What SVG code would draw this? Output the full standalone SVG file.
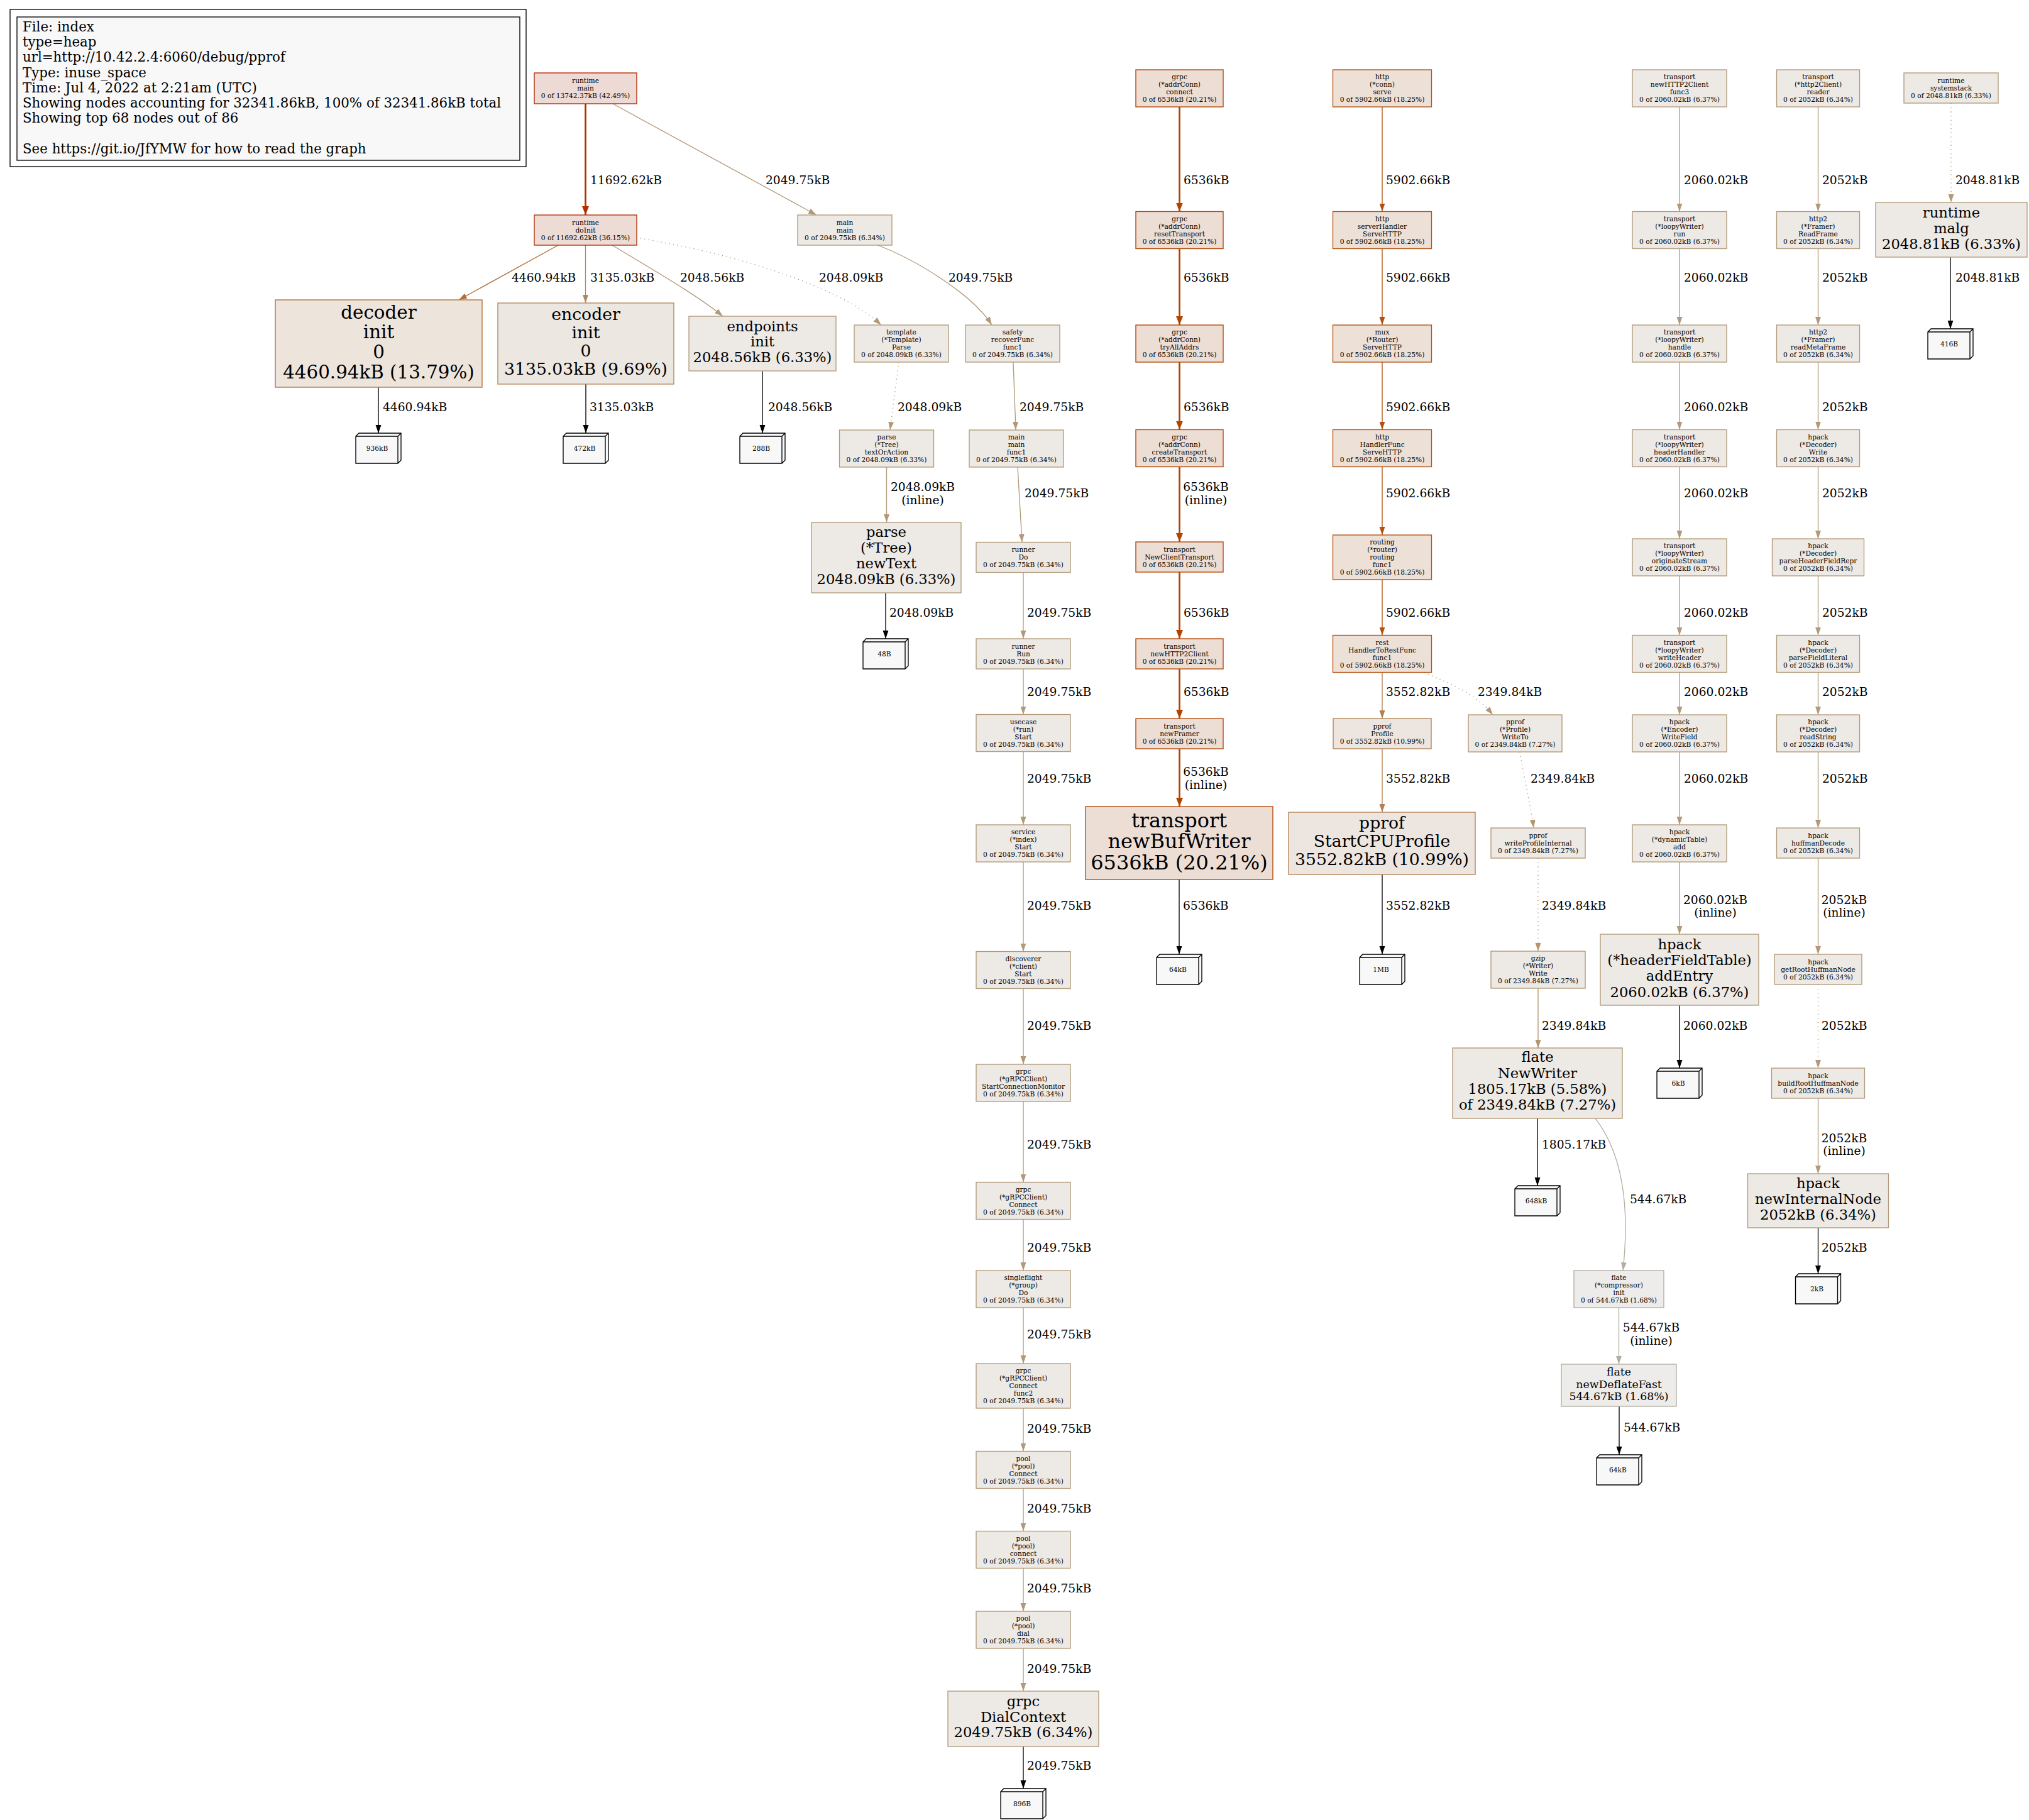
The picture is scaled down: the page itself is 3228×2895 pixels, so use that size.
<svg xmlns="http://www.w3.org/2000/svg" width="3228" height="2895" viewBox="0 0 3228 2895">
<style>
text{font-family:"DejaVu Serif",serif;fill:#000}
.s{font-size:10.67px;text-anchor:middle}
.l{font-size:18.67px}
.lm{font-size:18.67px;text-anchor:middle}
.g{font-size:21.33px}
.f17{font-size:22.67px;text-anchor:middle}
.f20{font-size:26.67px;text-anchor:middle}
.f22{font-size:29.33px;text-anchor:middle}
.f24{font-size:32px;text-anchor:middle}
.f13{font-size:17.33px;text-anchor:middle}
rect.n{stroke-width:1.33}
.c42{fill:#eddad5;stroke:#b22800}
.c36{fill:#eddbd5;stroke:#b22e00}
.c20{fill:#edded5;stroke:#b24400}
.c18{fill:#ede0d7;stroke:#b2500f}
.c13{fill:#ede4dc;stroke:#b26e37}
.c11{fill:#ede6e0;stroke:#b27f50}
.c9{fill:#ede7e1;stroke:#b2875c}
.c7{fill:#ede9e4;stroke:#b29571}
.c6{fill:#ede9e5;stroke:#b29979}
.c1{fill:#edeceb;stroke:#b2aea3}
.bx{fill:#f8f8f8;stroke:#000;stroke-width:1.33}
#edges path{fill:none}
.k36{stroke:#b22e00;stroke-width:2.67;marker-end:url(#m36)}
.k20{stroke:#b24400;stroke-width:2.67;marker-end:url(#m20)}
.k18{stroke:#b2500f;stroke-width:1.33;marker-end:url(#m18)}
.k13{stroke:#b26e37;stroke-width:1.33;marker-end:url(#m13)}
.k11{stroke:#b27f50;stroke-width:1.33;marker-end:url(#m11)}
.k9{stroke:#b2875c;stroke-width:1.33;marker-end:url(#m9)}
.k7{stroke:#b29571;stroke-width:1.33;marker-end:url(#m7)}
.k6{stroke:#b29979;stroke-width:1.33;marker-end:url(#m6)}
.k1{stroke:#b2aea3;stroke-width:1.33;marker-end:url(#m1)}
.kb{stroke:#000;stroke-width:1.33;marker-end:url(#mb)}
.d{stroke-dasharray:1.33 5.33}
</style>
<defs>
<marker id="m36" markerUnits="userSpaceOnUse" markerWidth="16" markerHeight="12" refX="14" refY="5.5" orient="auto"><path d="M0,0 L14,5.5 L0,11 Z" fill="#b22e00"/></marker>
<marker id="m20" markerUnits="userSpaceOnUse" markerWidth="16" markerHeight="12" refX="14" refY="5.5" orient="auto"><path d="M0,0 L14,5.5 L0,11 Z" fill="#b24400"/></marker>
<marker id="m18" markerUnits="userSpaceOnUse" markerWidth="14" markerHeight="10" refX="13" refY="4.5" orient="auto"><path d="M0,0 L13,4.5 L0,9 Z" fill="#b2500f"/></marker>
<marker id="m13" markerUnits="userSpaceOnUse" markerWidth="14" markerHeight="10" refX="13" refY="4.5" orient="auto"><path d="M0,0 L13,4.5 L0,9 Z" fill="#b26e37"/></marker>
<marker id="m11" markerUnits="userSpaceOnUse" markerWidth="14" markerHeight="10" refX="13" refY="4.5" orient="auto"><path d="M0,0 L13,4.5 L0,9 Z" fill="#b27f50"/></marker>
<marker id="m9" markerUnits="userSpaceOnUse" markerWidth="14" markerHeight="10" refX="13" refY="4.5" orient="auto"><path d="M0,0 L13,4.5 L0,9 Z" fill="#b2875c"/></marker>
<marker id="m7" markerUnits="userSpaceOnUse" markerWidth="14" markerHeight="10" refX="13" refY="4.5" orient="auto"><path d="M0,0 L13,4.5 L0,9 Z" fill="#b29571"/></marker>
<marker id="m6" markerUnits="userSpaceOnUse" markerWidth="14" markerHeight="10" refX="13" refY="4.5" orient="auto"><path d="M0,0 L13,4.5 L0,9 Z" fill="#b29979"/></marker>
<marker id="m1" markerUnits="userSpaceOnUse" markerWidth="14" markerHeight="10" refX="13" refY="4.5" orient="auto"><path d="M0,0 L13,4.5 L0,9 Z" fill="#b2aea3"/></marker>
<marker id="mb" markerUnits="userSpaceOnUse" markerWidth="14" markerHeight="10" refX="13" refY="4.5" orient="auto"><path d="M0,0 L13,4.5 L0,9 Z" fill="#000"/></marker>
<path id="b3" d="M0,5 L5,0 L72,0 L72,43 L67,48 L0,48 Z M0,5 L67,5 L67,48 M67,5 L72,0"/>
</defs>
<rect width="3228" height="2895" fill="#fff"/>

<g id="legend">
<rect x="16" y="15" width="821" height="250" fill="none" stroke="#000" stroke-width="1.33"/>
<rect x="27" y="27" width="800" height="228" fill="#f8f8f8" stroke="#000" stroke-width="1.33"/>
<text class="g" x="36" y="50">File: index</text>
<text class="g" x="36" y="74.2">type=heap</text>
<text class="g" x="36" y="98.4">url=http://10.42.2.4:6060/debug/pprof</text>
<text class="g" x="36" y="122.6">Type: inuse_space</text>
<text class="g" x="36" y="146.8">Time: Jul 4, 2022 at 2:21am (UTC)</text>
<text class="g" x="36" y="171">Showing nodes accounting for 32341.86kB, 100% of 32341.86kB total</text>
<text class="g" x="36" y="195.2">Showing top 68 nodes out of 86</text>
<text class="g" x="36" y="243.6">See https://git.io/JfYMW for how to read the graph</text>
</g>

<g id="edges">
<path class="k36" d="M931.5,165 V342"/>
<path class="k6" d="M975,165 L1299,342"/>
<path class="k13" d="M888,390 L730,477"/>
<path class="k9" d="M931.5,390 V482"/>
<path class="k6" d="M974,390 C1040,430 1110,470 1150,503"/>
<path class="k6 d" d="M1012,378 C1150,400 1330,450 1402,517"/>
<path class="k6" d="M1396,390 C1450,410 1545,465 1578,517"/>
<path class="kb" d="M602,616 V689"/>
<path class="kb" d="M932,611 V689"/>
<path class="kb" d="M1213,590 V689"/>
<path class="k6 d" d="M1430,576 L1416,684"/>
<path class="k6" d="M1612,576 L1616,684"/>
<path class="k6" d="M1410.5,743 V831"/>
<path class="k6" d="M1619,743 L1626,862.5"/>
<path class="kb" d="M1409,943 V1016"/>
<path class="k6" d="M1628,910.5 V1016"/>
<path class="k6" d="M1628,1064 V1136.5"/>
<path class="k6" d="M1628,1195.5 V1312"/>
<path class="k6" d="M1628,1371 V1513.5"/>
<path class="k6" d="M1628,1572.5 V1693"/>
<path class="k6" d="M1628,1752 V1880.5"/>
<path class="k6" d="M1628,1939.5 V2021"/>
<path class="k6" d="M1628,2080 V2169"/>
<path class="k6" d="M1628,2240 V2308.5"/>
<path class="k6" d="M1628,2367.5 V2435.5"/>
<path class="k6" d="M1628,2494.5 V2563"/>
<path class="k6" d="M1628,2622 V2690"/>
<path class="kb" d="M1628,2778 V2845"/>
<path class="k20" d="M1876.5,170 V336.5"/>
<path class="k20" d="M1876.5,395.5 V517"/>
<path class="k20" d="M1876.5,576 V683.5"/>
<path class="k20" d="M1876.5,742.5 V862"/>
<path class="k20" d="M1876.5,910 V1016"/>
<path class="k20" d="M1876.5,1064 V1143"/>
<path class="k20" d="M1876.5,1191 V1283"/>
<path class="kb" d="M1876,1399 V1518"/>
<path class="k18" d="M2199,170 V336.5"/>
<path class="k18" d="M2199,395.5 V517"/>
<path class="k18" d="M2199,576 V683.5"/>
<path class="k18" d="M2199,742.5 V851"/>
<path class="k18" d="M2199,922 V1010.5"/>
<path class="k11" d="M2199,1069.5 V1143"/>
<path class="k11" d="M2199,1191 V1292"/>
<path class="kb" d="M2199,1391 V1518"/>
<path class="k7 d" d="M2266,1069.5 C2300,1085 2345,1100 2375,1137"/>
<path class="k7 d" d="M2418,1196 C2425,1240 2435,1280 2440,1317"/>
<path class="k7 d" d="M2447,1365 V1513"/>
<path class="k7" d="M2447,1572 V1667"/>
<path class="kb" d="M2446,1779 V1886"/>
<path class="k1" d="M2538,1779 C2585,1840 2592,1930 2582,2021"/>
<path class="k1" d="M2575.5,2080 V2170"/>
<path class="kb" d="M2576,2237 V2314"/>
<path class="k6" d="M2672,170 V336.5"/>
<path class="k6" d="M2672,395.5 V517"/>
<path class="k6" d="M2672,576 V683.5"/>
<path class="k6" d="M2672,742.5 V857"/>
<path class="k6" d="M2672,916 V1010.5"/>
<path class="k6" d="M2672,1069.5 V1137"/>
<path class="k6" d="M2672,1196 V1312"/>
<path class="k6" d="M2672,1371 V1486"/>
<path class="kb" d="M2672,1599 V1699"/>
<path class="k6" d="M2892.5,170 V336.5"/>
<path class="k6" d="M2892.5,395.5 V517"/>
<path class="k6" d="M2892.5,576 V683.5"/>
<path class="k6" d="M2892.5,742.5 V857"/>
<path class="k6" d="M2892.5,916 V1010.5"/>
<path class="k6" d="M2892.5,1069.5 V1137"/>
<path class="k6" d="M2892.5,1196 V1317"/>
<path class="k6" d="M2892.5,1365 V1518"/>
<path class="k6 d" d="M2892.5,1566 V1699"/>
<path class="k6" d="M2892.5,1747 V1867"/>
<path class="kb" d="M2892.5,1953 V2026"/>
<path class="k6 d" d="M3104,164 V322"/>
<path class="kb" d="M3103,409 V523"/>
</g>

<g id="edge-labels">
<text class="l" x="939" y="293">11692.62kB</text>
<text class="l" x="1218" y="293">2049.75kB</text>
<text class="l" x="814" y="448">4460.94kB</text>
<text class="l" x="939" y="448">3135.03kB</text>
<text class="l" x="1082" y="448">2048.56kB</text>
<text class="l" x="1303" y="448">2048.09kB</text>
<text class="l" x="1509" y="448">2049.75kB</text>
<text class="l" x="609" y="654">4460.94kB</text>
<text class="l" x="938" y="654">3135.03kB</text>
<text class="l" x="1222" y="654">2048.56kB</text>
<text class="l" x="1428" y="654">2048.09kB</text>
<text class="l" x="1622" y="654">2049.75kB</text>
<text class="lm" x="1468" y="781">2048.09kB</text>
<text class="lm" x="1468" y="802">(inline)</text>
<text class="l" x="1630" y="791">2049.75kB</text>
<text class="l" x="1415" y="981">2048.09kB</text>
<text class="l" x="1634" y="981">2049.75kB</text>
<text class="l" x="1634" y="1107">2049.75kB</text>
<text class="l" x="1634" y="1245">2049.75kB</text>
<text class="l" x="1634" y="1447">2049.75kB</text>
<text class="l" x="1634" y="1638">2049.75kB</text>
<text class="l" x="1634" y="1827">2049.75kB</text>
<text class="l" x="1634" y="1991">2049.75kB</text>
<text class="l" x="1634" y="2129">2049.75kB</text>
<text class="l" x="1634" y="2279">2049.75kB</text>
<text class="l" x="1634" y="2406">2049.75kB</text>
<text class="l" x="1634" y="2533">2049.75kB</text>
<text class="l" x="1634" y="2661">2049.75kB</text>
<text class="l" x="1634" y="2815">2049.75kB</text>
<text class="l" x="1883" y="293">6536kB</text>
<text class="l" x="1883" y="448">6536kB</text>
<text class="l" x="1883" y="654">6536kB</text>
<text class="lm" x="1918.5" y="781">6536kB</text>
<text class="lm" x="1918.5" y="802">(inline)</text>
<text class="l" x="1883" y="981">6536kB</text>
<text class="l" x="1883" y="1107">6536kB</text>
<text class="lm" x="1918.5" y="1234">6536kB</text>
<text class="lm" x="1918.5" y="1255">(inline)</text>
<text class="l" x="1882" y="1447">6536kB</text>
<text class="l" x="2205" y="293">5902.66kB</text>
<text class="l" x="2205" y="448">5902.66kB</text>
<text class="l" x="2205" y="654">5902.66kB</text>
<text class="l" x="2205" y="791">5902.66kB</text>
<text class="l" x="2205" y="981">5902.66kB</text>
<text class="l" x="2205" y="1107">3552.82kB</text>
<text class="l" x="2205" y="1245">3552.82kB</text>
<text class="l" x="2205" y="1447">3552.82kB</text>
<text class="l" x="2351" y="1107">2349.84kB</text>
<text class="l" x="2435" y="1245">2349.84kB</text>
<text class="l" x="2453" y="1447">2349.84kB</text>
<text class="l" x="2453" y="1638">2349.84kB</text>
<text class="l" x="2453" y="1827">1805.17kB</text>
<text class="l" x="2593" y="1914">544.67kB</text>
<text class="lm" x="2627" y="2118">544.67kB</text>
<text class="lm" x="2627" y="2139">(inline)</text>
<text class="l" x="2583" y="2277">544.67kB</text>
<text class="l" x="2679" y="293">2060.02kB</text>
<text class="l" x="2679" y="448">2060.02kB</text>
<text class="l" x="2679" y="654">2060.02kB</text>
<text class="l" x="2679" y="791">2060.02kB</text>
<text class="l" x="2679" y="981">2060.02kB</text>
<text class="l" x="2679" y="1107">2060.02kB</text>
<text class="l" x="2679" y="1245">2060.02kB</text>
<text class="lm" x="2729" y="1438">2060.02kB</text>
<text class="lm" x="2729" y="1458">(inline)</text>
<text class="l" x="2678" y="1638">2060.02kB</text>
<text class="l" x="2899" y="293">2052kB</text>
<text class="l" x="2899" y="448">2052kB</text>
<text class="l" x="2899" y="654">2052kB</text>
<text class="l" x="2899" y="791">2052kB</text>
<text class="l" x="2899" y="981">2052kB</text>
<text class="l" x="2899" y="1107">2052kB</text>
<text class="l" x="2899" y="1245">2052kB</text>
<text class="lm" x="2934" y="1438">2052kB</text>
<text class="lm" x="2934" y="1458">(inline)</text>
<text class="l" x="2898" y="1638">2052kB</text>
<text class="lm" x="2934" y="1817">2052kB</text>
<text class="lm" x="2934" y="1837">(inline)</text>
<text class="l" x="2898" y="1991">2052kB</text>
<text class="l" x="3111" y="293">2048.81kB</text>
<text class="l" x="3111" y="448">2048.81kB</text>
</g>

<g id="n-runtime-main"><rect class="n c42" x="850" y="116" width="163" height="49"/><text class="s"><tspan x="931.5" y="132.3">runtime</tspan><tspan x="931.5" y="144.3">main</tspan><tspan x="931.5" y="156.3">0 of 13742.37kB (42.49%)</tspan></text></g>
<g id="n-runtime-doInit"><rect class="n c36" x="850" y="342" width="163" height="48"/><text class="s"><tspan x="931.5" y="357.8">runtime</tspan><tspan x="931.5" y="369.8">doInit</tspan><tspan x="931.5" y="381.8">0 of 11692.62kB (36.15%)</tspan></text></g>
<g id="n-main-main"><rect class="n c6" x="1269" y="342" width="150" height="48"/><text class="s"><tspan x="1344" y="357.8">main</tspan><tspan x="1344" y="369.8">main</tspan><tspan x="1344" y="381.8">0 of 2049.75kB (6.34%)</tspan></text></g>
<g id="n-decoder-init"><rect class="n c13" x="438" y="477" width="329" height="139"/><text class="f22"><tspan x="602.5" y="506.5">decoder</tspan><tspan x="602.5" y="538.2">init</tspan><tspan x="602.5" y="569.9">0</tspan><tspan x="602.5" y="601.6">4460.94kB (13.79%)</tspan></text></g>
<g id="n-encoder-init"><rect class="n c9" x="792" y="482" width="280" height="129"/><text class="f20"><tspan x="932" y="508.8">encoder</tspan><tspan x="932" y="538">init</tspan><tspan x="932" y="567.2">0</tspan><tspan x="932" y="596.4">3135.03kB (9.69%)</tspan></text></g>
<g id="n-endpoints-init"><rect class="n c6" x="1096" y="503" width="234" height="87"/><text class="f17"><tspan x="1213" y="526.8">endpoints</tspan><tspan x="1213" y="551.3">init</tspan><tspan x="1213" y="575.8">2048.56kB (6.33%)</tspan></text></g>
<g id="n-template-parse"><rect class="n c6" x="1359" y="517" width="150" height="59"/><text class="s"><tspan x="1434" y="532.3">template</tspan><tspan x="1434" y="544.3">(*Template)</tspan><tspan x="1434" y="556.3">Parse</tspan><tspan x="1434" y="568.3">0 of 2048.09kB (6.33%)</tspan></text></g>
<g id="n-safety-recoverFunc"><rect class="n c6" x="1536" y="517" width="150" height="59"/><text class="s"><tspan x="1611" y="532.3">safety</tspan><tspan x="1611" y="544.3">recoverFunc</tspan><tspan x="1611" y="556.3">func1</tspan><tspan x="1611" y="568.3">0 of 2049.75kB (6.34%)</tspan></text></g>
<g id="n-parse-textOrAction"><rect class="n c6" x="1335.5" y="684" width="150" height="59"/><text class="s"><tspan x="1410.5" y="699.3">parse</tspan><tspan x="1410.5" y="711.3">(*Tree)</tspan><tspan x="1410.5" y="723.3">textOrAction</tspan><tspan x="1410.5" y="735.3">0 of 2048.09kB (6.33%)</tspan></text></g>
<g id="n-main-main-func1"><rect class="n c6" x="1542" y="684" width="150" height="59"/><text class="s"><tspan x="1617" y="699.3">main</tspan><tspan x="1617" y="711.3">main</tspan><tspan x="1617" y="723.3">func1</tspan><tspan x="1617" y="735.3">0 of 2049.75kB (6.34%)</tspan></text></g>
<g id="n-parse-newText"><rect class="n c6" x="1291" y="831" width="238" height="112"/><text class="f17"><tspan x="1410" y="854.4">parse</tspan><tspan x="1410" y="879.2">(*Tree)</tspan><tspan x="1410" y="904">newText</tspan><tspan x="1410" y="928.8">2048.09kB (6.33%)</tspan></text></g>
<g id="n-runner-Do"><rect class="n c6" x="1553" y="862.5" width="150" height="48"/><text class="s"><tspan x="1628" y="878.3">runner</tspan><tspan x="1628" y="890.3">Do</tspan><tspan x="1628" y="902.3">0 of 2049.75kB (6.34%)</tspan></text></g>
<g id="n-runner-Run"><rect class="n c6" x="1553" y="1016" width="150" height="48"/><text class="s"><tspan x="1628" y="1031.8">runner</tspan><tspan x="1628" y="1043.8">Run</tspan><tspan x="1628" y="1055.8">0 of 2049.75kB (6.34%)</tspan></text></g>
<g id="n-usecase-start"><rect class="n c6" x="1553" y="1136.5" width="150" height="59"/><text class="s"><tspan x="1628" y="1151.8">usecase</tspan><tspan x="1628" y="1163.8">(*run)</tspan><tspan x="1628" y="1175.8">Start</tspan><tspan x="1628" y="1187.8">0 of 2049.75kB (6.34%)</tspan></text></g>
<g id="n-service-start"><rect class="n c6" x="1553" y="1312" width="150" height="59"/><text class="s"><tspan x="1628" y="1327.3">service</tspan><tspan x="1628" y="1339.3">(*index)</tspan><tspan x="1628" y="1351.3">Start</tspan><tspan x="1628" y="1363.3">0 of 2049.75kB (6.34%)</tspan></text></g>
<g id="n-discoverer-start"><rect class="n c6" x="1553" y="1513.5" width="150" height="59"/><text class="s"><tspan x="1628" y="1528.8">discoverer</tspan><tspan x="1628" y="1540.8">(*client)</tspan><tspan x="1628" y="1552.8">Start</tspan><tspan x="1628" y="1564.8">0 of 2049.75kB (6.34%)</tspan></text></g>
<g id="n-grpc-scm"><rect class="n c6" x="1553" y="1693" width="150" height="59"/><text class="s"><tspan x="1628" y="1708.3">grpc</tspan><tspan x="1628" y="1720.3">(*gRPCClient)</tspan><tspan x="1628" y="1732.3">StartConnectionMonitor</tspan><tspan x="1628" y="1744.3">0 of 2049.75kB (6.34%)</tspan></text></g>
<g id="n-grpc-connect-client"><rect class="n c6" x="1553" y="1880.5" width="150" height="59"/><text class="s"><tspan x="1628" y="1895.8">grpc</tspan><tspan x="1628" y="1907.8">(*gRPCClient)</tspan><tspan x="1628" y="1919.8">Connect</tspan><tspan x="1628" y="1931.8">0 of 2049.75kB (6.34%)</tspan></text></g>
<g id="n-singleflight-do"><rect class="n c6" x="1553" y="2021" width="150" height="59"/><text class="s"><tspan x="1628" y="2036.3">singleflight</tspan><tspan x="1628" y="2048.3">(*group)</tspan><tspan x="1628" y="2060.3">Do</tspan><tspan x="1628" y="2072.3">0 of 2049.75kB (6.34%)</tspan></text></g>
<g id="n-grpc-connect-func2"><rect class="n c6" x="1553" y="2169" width="150" height="71"/><text class="s"><tspan x="1628" y="2184.3">grpc</tspan><tspan x="1628" y="2196.3">(*gRPCClient)</tspan><tspan x="1628" y="2208.3">Connect</tspan><tspan x="1628" y="2220.3">func2</tspan><tspan x="1628" y="2232.3">0 of 2049.75kB (6.34%)</tspan></text></g>
<g id="n-pool-Connect"><rect class="n c6" x="1553" y="2308.5" width="150" height="59"/><text class="s"><tspan x="1628" y="2323.8">pool</tspan><tspan x="1628" y="2335.8">(*pool)</tspan><tspan x="1628" y="2347.8">Connect</tspan><tspan x="1628" y="2359.8">0 of 2049.75kB (6.34%)</tspan></text></g>
<g id="n-pool-connect"><rect class="n c6" x="1553" y="2435.5" width="150" height="59"/><text class="s"><tspan x="1628" y="2450.8">pool</tspan><tspan x="1628" y="2462.8">(*pool)</tspan><tspan x="1628" y="2474.8">connect</tspan><tspan x="1628" y="2486.8">0 of 2049.75kB (6.34%)</tspan></text></g>
<g id="n-pool-dial"><rect class="n c6" x="1553" y="2563" width="150" height="59"/><text class="s"><tspan x="1628" y="2578.3">pool</tspan><tspan x="1628" y="2590.3">(*pool)</tspan><tspan x="1628" y="2602.3">dial</tspan><tspan x="1628" y="2614.3">0 of 2049.75kB (6.34%)</tspan></text></g>
<g id="n-grpc-DialContext"><rect class="n c6" x="1508" y="2690" width="240" height="88"/><text class="f17"><tspan x="1628" y="2713.7">grpc</tspan><tspan x="1628" y="2738.5">DialContext</tspan><tspan x="1628" y="2763.3">2049.75kB (6.34%)</tspan></text></g>

<g id="n-grpc-addrConn-connect"><rect class="n c20" x="1807" y="111" width="139" height="59"/><text class="s"><tspan x="1876.5" y="126.3">grpc</tspan><tspan x="1876.5" y="138.3">(*addrConn)</tspan><tspan x="1876.5" y="150.3">connect</tspan><tspan x="1876.5" y="162.3">0 of 6536kB (20.21%)</tspan></text></g>
<g id="n-grpc-resetTransport"><rect class="n c20" x="1807" y="336.5" width="139" height="59"/><text class="s"><tspan x="1876.5" y="351.8">grpc</tspan><tspan x="1876.5" y="363.8">(*addrConn)</tspan><tspan x="1876.5" y="375.8">resetTransport</tspan><tspan x="1876.5" y="387.8">0 of 6536kB (20.21%)</tspan></text></g>
<g id="n-grpc-tryAllAddrs"><rect class="n c20" x="1807" y="517" width="139" height="59"/><text class="s"><tspan x="1876.5" y="532.3">grpc</tspan><tspan x="1876.5" y="544.3">(*addrConn)</tspan><tspan x="1876.5" y="556.3">tryAllAddrs</tspan><tspan x="1876.5" y="568.3">0 of 6536kB (20.21%)</tspan></text></g>
<g id="n-grpc-createTransport"><rect class="n c20" x="1807" y="683.5" width="139" height="59"/><text class="s"><tspan x="1876.5" y="698.8">grpc</tspan><tspan x="1876.5" y="710.8">(*addrConn)</tspan><tspan x="1876.5" y="722.8">createTransport</tspan><tspan x="1876.5" y="734.8">0 of 6536kB (20.21%)</tspan></text></g>
<g id="n-transport-NewClientTransport"><rect class="n c20" x="1807" y="862" width="139" height="48"/><text class="s"><tspan x="1876.5" y="877.8">transport</tspan><tspan x="1876.5" y="889.8">NewClientTransport</tspan><tspan x="1876.5" y="901.8">0 of 6536kB (20.21%)</tspan></text></g>
<g id="n-transport-newHTTP2Client"><rect class="n c20" x="1807" y="1016" width="139" height="48"/><text class="s"><tspan x="1876.5" y="1031.8">transport</tspan><tspan x="1876.5" y="1043.8">newHTTP2Client</tspan><tspan x="1876.5" y="1055.8">0 of 6536kB (20.21%)</tspan></text></g>
<g id="n-transport-newFramer"><rect class="n c20" x="1807" y="1143" width="139" height="48"/><text class="s"><tspan x="1876.5" y="1158.8">transport</tspan><tspan x="1876.5" y="1170.8">newFramer</tspan><tspan x="1876.5" y="1182.8">0 of 6536kB (20.21%)</tspan></text></g>
<g id="n-transport-newBufWriter"><rect class="n c20" x="1727" y="1283" width="298" height="116"/><text class="f24"><tspan x="1876" y="1315.5">transport</tspan><tspan x="1876" y="1349">newBufWriter</tspan><tspan x="1876" y="1382.5">6536kB (20.21%)</tspan></text></g>

<g id="n-http-serve"><rect class="n c18" x="2120.5" y="111" width="157" height="59"/><text class="s"><tspan x="2199" y="126.3">http</tspan><tspan x="2199" y="138.3">(*conn)</tspan><tspan x="2199" y="150.3">serve</tspan><tspan x="2199" y="162.3">0 of 5902.66kB (18.25%)</tspan></text></g>
<g id="n-http-serverHandler"><rect class="n c18" x="2120.5" y="336.5" width="157" height="59"/><text class="s"><tspan x="2199" y="351.8">http</tspan><tspan x="2199" y="363.8">serverHandler</tspan><tspan x="2199" y="375.8">ServeHTTP</tspan><tspan x="2199" y="387.8">0 of 5902.66kB (18.25%)</tspan></text></g>
<g id="n-mux-router"><rect class="n c18" x="2120.5" y="517" width="157" height="59"/><text class="s"><tspan x="2199" y="532.3">mux</tspan><tspan x="2199" y="544.3">(*Router)</tspan><tspan x="2199" y="556.3">ServeHTTP</tspan><tspan x="2199" y="568.3">0 of 5902.66kB (18.25%)</tspan></text></g>
<g id="n-http-HandlerFunc"><rect class="n c18" x="2120.5" y="683.5" width="157" height="59"/><text class="s"><tspan x="2199" y="698.8">http</tspan><tspan x="2199" y="710.8">HandlerFunc</tspan><tspan x="2199" y="722.8">ServeHTTP</tspan><tspan x="2199" y="734.8">0 of 5902.66kB (18.25%)</tspan></text></g>
<g id="n-routing-func1"><rect class="n c18" x="2120.5" y="851" width="157" height="71"/><text class="s"><tspan x="2199" y="866.3">routing</tspan><tspan x="2199" y="878.3">(*router)</tspan><tspan x="2199" y="890.3">routing</tspan><tspan x="2199" y="902.3">func1</tspan><tspan x="2199" y="914.3">0 of 5902.66kB (18.25%)</tspan></text></g>
<g id="n-rest-HandlerToRestFunc"><rect class="n c18" x="2120.5" y="1010.5" width="157" height="59"/><text class="s"><tspan x="2199" y="1025.8">rest</tspan><tspan x="2199" y="1037.8">HandlerToRestFunc</tspan><tspan x="2199" y="1049.8">func1</tspan><tspan x="2199" y="1061.8">0 of 5902.66kB (18.25%)</tspan></text></g>
<g id="n-pprof-Profile"><rect class="n c11" x="2121" y="1143" width="156" height="48"/><text class="s"><tspan x="2199" y="1158.8">pprof</tspan><tspan x="2199" y="1170.8">Profile</tspan><tspan x="2199" y="1182.8">0 of 3552.82kB (10.99%)</tspan></text></g>
<g id="n-pprof-StartCPUProfile"><rect class="n c11" x="2050" y="1292" width="297" height="99"/><text class="f20"><tspan x="2198.5" y="1318.2">pprof</tspan><tspan x="2198.5" y="1347.2">StartCPUProfile</tspan><tspan x="2198.5" y="1376.2">3552.82kB (10.99%)</tspan></text></g>
<g id="n-pprof-WriteTo"><rect class="n c7" x="2336" y="1137" width="149" height="59"/><text class="s"><tspan x="2410.5" y="1152.3">pprof</tspan><tspan x="2410.5" y="1164.3">(*Profile)</tspan><tspan x="2410.5" y="1176.3">WriteTo</tspan><tspan x="2410.5" y="1188.3">0 of 2349.84kB (7.27%)</tspan></text></g>
<g id="n-pprof-writeProfileInternal"><rect class="n c7" x="2372" y="1317" width="150" height="48"/><text class="s"><tspan x="2447" y="1332.8">pprof</tspan><tspan x="2447" y="1344.8">writeProfileInternal</tspan><tspan x="2447" y="1356.8">0 of 2349.84kB (7.27%)</tspan></text></g>
<g id="n-gzip-Write"><rect class="n c7" x="2372" y="1513" width="150" height="59"/><text class="s"><tspan x="2447" y="1528.3">gzip</tspan><tspan x="2447" y="1540.3">(*Writer)</tspan><tspan x="2447" y="1552.3">Write</tspan><tspan x="2447" y="1564.3">0 of 2349.84kB (7.27%)</tspan></text></g>
<g id="n-flate-NewWriter"><rect class="n c7" x="2311" y="1667" width="270" height="112"/><text class="f17"><tspan x="2446" y="1689.2">flate</tspan><tspan x="2446" y="1714.5">NewWriter</tspan><tspan x="2446" y="1739.8">1805.17kB (5.58%)</tspan><tspan x="2446" y="1765.1">of 2349.84kB (7.27%)</tspan></text></g>
<g id="n-flate-compressor-init"><rect class="n c1" x="2504" y="2021" width="143" height="59"/><text class="s"><tspan x="2575.5" y="2036.3">flate</tspan><tspan x="2575.5" y="2048.3">(*compressor)</tspan><tspan x="2575.5" y="2060.3">init</tspan><tspan x="2575.5" y="2072.3">0 of 544.67kB (1.68%)</tspan></text></g>
<g id="n-flate-newDeflateFast"><rect class="n c1" x="2484" y="2170" width="183" height="67"/><text class="f13"><tspan x="2575.5" y="2188.3">flate</tspan><tspan x="2575.5" y="2207.5">newDeflateFast</tspan><tspan x="2575.5" y="2226.7">544.67kB (1.68%)</tspan></text></g>

<g id="n-transport-func3"><rect class="n c6" x="2597" y="111" width="150" height="59"/><text class="s"><tspan x="2672" y="126.3">transport</tspan><tspan x="2672" y="138.3">newHTTP2Client</tspan><tspan x="2672" y="150.3">func3</tspan><tspan x="2672" y="162.3">0 of 2060.02kB (6.37%)</tspan></text></g>
<g id="n-loopy-run"><rect class="n c6" x="2597" y="336.5" width="150" height="59"/><text class="s"><tspan x="2672" y="351.8">transport</tspan><tspan x="2672" y="363.8">(*loopyWriter)</tspan><tspan x="2672" y="375.8">run</tspan><tspan x="2672" y="387.8">0 of 2060.02kB (6.37%)</tspan></text></g>
<g id="n-loopy-handle"><rect class="n c6" x="2597" y="517" width="150" height="59"/><text class="s"><tspan x="2672" y="532.3">transport</tspan><tspan x="2672" y="544.3">(*loopyWriter)</tspan><tspan x="2672" y="556.3">handle</tspan><tspan x="2672" y="568.3">0 of 2060.02kB (6.37%)</tspan></text></g>
<g id="n-loopy-headerHandler"><rect class="n c6" x="2597" y="683.5" width="150" height="59"/><text class="s"><tspan x="2672" y="698.8">transport</tspan><tspan x="2672" y="710.8">(*loopyWriter)</tspan><tspan x="2672" y="722.8">headerHandler</tspan><tspan x="2672" y="734.8">0 of 2060.02kB (6.37%)</tspan></text></g>
<g id="n-loopy-originateStream"><rect class="n c6" x="2597" y="857" width="150" height="59"/><text class="s"><tspan x="2672" y="872.3">transport</tspan><tspan x="2672" y="884.3">(*loopyWriter)</tspan><tspan x="2672" y="896.3">originateStream</tspan><tspan x="2672" y="908.3">0 of 2060.02kB (6.37%)</tspan></text></g>
<g id="n-loopy-writeHeader"><rect class="n c6" x="2597" y="1010.5" width="150" height="59"/><text class="s"><tspan x="2672" y="1025.8">transport</tspan><tspan x="2672" y="1037.8">(*loopyWriter)</tspan><tspan x="2672" y="1049.8">writeHeader</tspan><tspan x="2672" y="1061.8">0 of 2060.02kB (6.37%)</tspan></text></g>
<g id="n-hpack-WriteField"><rect class="n c6" x="2597" y="1137" width="150" height="59"/><text class="s"><tspan x="2672" y="1152.3">hpack</tspan><tspan x="2672" y="1164.3">(*Encoder)</tspan><tspan x="2672" y="1176.3">WriteField</tspan><tspan x="2672" y="1188.3">0 of 2060.02kB (6.37%)</tspan></text></g>
<g id="n-hpack-add"><rect class="n c6" x="2597" y="1312" width="150" height="59"/><text class="s"><tspan x="2672" y="1327.3">hpack</tspan><tspan x="2672" y="1339.3">(*dynamicTable)</tspan><tspan x="2672" y="1351.3">add</tspan><tspan x="2672" y="1363.3">0 of 2060.02kB (6.37%)</tspan></text></g>
<g id="n-hpack-addEntry"><rect class="n c6" x="2546" y="1486" width="252" height="113"/><text class="f17"><tspan x="2672" y="1510.2">hpack</tspan><tspan x="2672" y="1535.3">(*headerFieldTable)</tspan><tspan x="2672" y="1560.4">addEntry</tspan><tspan x="2672" y="1585.5">2060.02kB (6.37%)</tspan></text></g>

<g id="n-transport-reader"><rect class="n c6" x="2826.5" y="111" width="132" height="59"/><text class="s"><tspan x="2892.5" y="126.3">transport</tspan><tspan x="2892.5" y="138.3">(*http2Client)</tspan><tspan x="2892.5" y="150.3">reader</tspan><tspan x="2892.5" y="162.3">0 of 2052kB (6.34%)</tspan></text></g>
<g id="n-http2-ReadFrame"><rect class="n c6" x="2826.5" y="336.5" width="132" height="59"/><text class="s"><tspan x="2892.5" y="351.8">http2</tspan><tspan x="2892.5" y="363.8">(*Framer)</tspan><tspan x="2892.5" y="375.8">ReadFrame</tspan><tspan x="2892.5" y="387.8">0 of 2052kB (6.34%)</tspan></text></g>
<g id="n-http2-readMetaFrame"><rect class="n c6" x="2826.5" y="517" width="132" height="59"/><text class="s"><tspan x="2892.5" y="532.3">http2</tspan><tspan x="2892.5" y="544.3">(*Framer)</tspan><tspan x="2892.5" y="556.3">readMetaFrame</tspan><tspan x="2892.5" y="568.3">0 of 2052kB (6.34%)</tspan></text></g>
<g id="n-hpack-Decoder-Write"><rect class="n c6" x="2826.5" y="683.5" width="132" height="59"/><text class="s"><tspan x="2892.5" y="698.8">hpack</tspan><tspan x="2892.5" y="710.8">(*Decoder)</tspan><tspan x="2892.5" y="722.8">Write</tspan><tspan x="2892.5" y="734.8">0 of 2052kB (6.34%)</tspan></text></g>
<g id="n-hpack-parseHeaderFieldRepr"><rect class="n c6" x="2819.5" y="857" width="146" height="59"/><text class="s"><tspan x="2892.5" y="872.3">hpack</tspan><tspan x="2892.5" y="884.3">(*Decoder)</tspan><tspan x="2892.5" y="896.3">parseHeaderFieldRepr</tspan><tspan x="2892.5" y="908.3">0 of 2052kB (6.34%)</tspan></text></g>
<g id="n-hpack-parseFieldLiteral"><rect class="n c6" x="2826.5" y="1010.5" width="132" height="59"/><text class="s"><tspan x="2892.5" y="1025.8">hpack</tspan><tspan x="2892.5" y="1037.8">(*Decoder)</tspan><tspan x="2892.5" y="1049.8">parseFieldLiteral</tspan><tspan x="2892.5" y="1061.8">0 of 2052kB (6.34%)</tspan></text></g>
<g id="n-hpack-readString"><rect class="n c6" x="2826.5" y="1137" width="132" height="59"/><text class="s"><tspan x="2892.5" y="1152.3">hpack</tspan><tspan x="2892.5" y="1164.3">(*Decoder)</tspan><tspan x="2892.5" y="1176.3">readString</tspan><tspan x="2892.5" y="1188.3">0 of 2052kB (6.34%)</tspan></text></g>
<g id="n-hpack-huffmanDecode"><rect class="n c6" x="2826.5" y="1317" width="132" height="48"/><text class="s"><tspan x="2892.5" y="1332.8">hpack</tspan><tspan x="2892.5" y="1344.8">huffmanDecode</tspan><tspan x="2892.5" y="1356.8">0 of 2052kB (6.34%)</tspan></text></g>
<g id="n-hpack-getRootHuffmanNode"><rect class="n c6" x="2823" y="1518" width="139" height="48"/><text class="s"><tspan x="2892.5" y="1533.8">hpack</tspan><tspan x="2892.5" y="1545.8">getRootHuffmanNode</tspan><tspan x="2892.5" y="1557.8">0 of 2052kB (6.34%)</tspan></text></g>
<g id="n-hpack-buildRootHuffmanNode"><rect class="n c6" x="2818.5" y="1699" width="148" height="48"/><text class="s"><tspan x="2892.5" y="1714.8">hpack</tspan><tspan x="2892.5" y="1726.8">buildRootHuffmanNode</tspan><tspan x="2892.5" y="1738.8">0 of 2052kB (6.34%)</tspan></text></g>
<g id="n-hpack-newInternalNode"><rect class="n c6" x="2780.5" y="1867" width="224" height="86"/><text class="f17"><tspan x="2892.5" y="1889.6">hpack</tspan><tspan x="2892.5" y="1914.8">newInternalNode</tspan><tspan x="2892.5" y="1940">2052kB (6.34%)</tspan></text></g>

<g id="n-runtime-systemstack"><rect class="n c6" x="3029" y="116" width="150" height="48"/><text class="s"><tspan x="3104" y="131.8">runtime</tspan><tspan x="3104" y="143.8">systemstack</tspan><tspan x="3104" y="155.8">0 of 2048.81kB (6.33%)</tspan></text></g>
<g id="n-runtime-malg"><rect class="n c6" x="2984" y="322" width="241" height="87"/><text class="f17"><tspan x="3104.5" y="345.8">runtime</tspan><tspan x="3104.5" y="370.8">malg</tspan><tspan x="3104.5" y="395.8">2048.81kB (6.33%)</tspan></text></g>

<g id="a-936kB"><use href="#b3" class="bx" x="566" y="689"/><text class="s" x="600" y="717">936kB</text></g>
<g id="a-472kB"><use href="#b3" class="bx" x="896" y="689"/><text class="s" x="930" y="717">472kB</text></g>
<g id="a-288B"><use href="#b3" class="bx" x="1177" y="689"/><text class="s" x="1211" y="717">288B</text></g>
<g id="a-48B"><use href="#b3" class="bx" x="1373" y="1016"/><text class="s" x="1407" y="1044">48B</text></g>
<g id="a-64kB-1"><use href="#b3" class="bx" x="1840" y="1518"/><text class="s" x="1874" y="1546">64kB</text></g>
<g id="a-1MB"><use href="#b3" class="bx" x="2163" y="1518"/><text class="s" x="2197" y="1546">1MB</text></g>
<g id="a-896B"><use href="#b3" class="bx" x="1592" y="2845"/><text class="s" x="1626" y="2873">896B</text></g>
<g id="a-416B"><use href="#b3" class="bx" x="3067" y="523"/><text class="s" x="3101" y="551">416B</text></g>
<g id="a-6kB"><use href="#b3" class="bx" x="2636" y="1699"/><text class="s" x="2670" y="1727">6kB</text></g>
<g id="a-648kB"><use href="#b3" class="bx" x="2410" y="1886"/><text class="s" x="2444" y="1914">648kB</text></g>
<g id="a-2kB"><use href="#b3" class="bx" x="2856.5" y="2026"/><text class="s" x="2890.5" y="2054">2kB</text></g>
<g id="a-64kB-2"><use href="#b3" class="bx" x="2540" y="2314"/><text class="s" x="2574" y="2342">64kB</text></g>
</svg>
